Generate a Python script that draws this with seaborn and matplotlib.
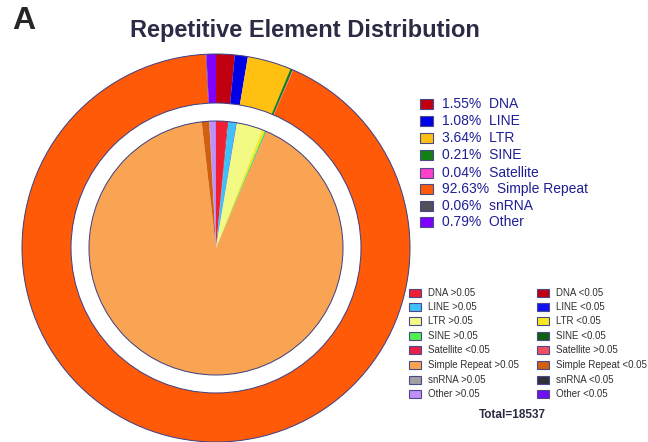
import matplotlib
matplotlib.use("Agg")
import matplotlib.pyplot as plt
from matplotlib.patches import Rectangle, Circle
import seaborn as sns

sns.set_style("white")
plt.rcParams['font.family'] = ['Liberation Sans', 'DejaVu Sans']

# outer ring: share of each repeat class (%)
classes = ["DNA", "LINE", "LTR", "SINE", "Satellite", "Simple Repeat", "snRNA", "Other"]
class_pct = [1.55, 1.08, 3.64, 0.21, 0.04, 92.63, 0.06, 0.79]
class_colors = ["#C00010", "#0000E6", "#FFC012", "#128012", "#FF40C8",
                "#FF5A08", "#505058", "#8000FF"]

# inner pie: each class split by p-value group
sub_labels = ["DNA >0.05", "DNA <0.05", "LINE >0.05", "LINE <0.05",
              "LTR >0.05", "LTR <0.05", "SINE >0.05", "SINE <0.05",
              "Satellite <0.05", "Satellite >0.05",
              "Simple Repeat >0.05", "Simple Repeat <0.05",
              "snRNA >0.05", "snRNA <0.05", "Other >0.05", "Other <0.05"]
sub_pct = [1.45, 0.10, 1.02, 0.06, 3.30, 0.34, 0.17, 0.04,
           0.01, 0.03, 91.68, 0.95, 0.05, 0.01, 0.76, 0.03]
sub_colors = ["#F02032", "#C00010", "#40C0F8", "#1010F0",
              "#F2FA84", "#F8E820", "#50F050", "#106010",
              "#E8204A", "#F05060", "#F8A452", "#D06010",
              "#A0A0A0", "#303038", "#C090F8", "#7010F0"]
total = 18537

fig = plt.figure(figsize=(6.48, 4.42), dpi=100)
W, H = 648, 442

# pie axes placed in pixel units: centre (216, 248), outer radius 194
cx, cy, r = 216, 248, 194
ring_in = 145 / r
pie_r = 127 / r
ax = fig.add_axes([(cx - r) / W, (H - cy - r) / H, 2 * r / W, 2 * r / H])
ax.pie(class_pct, colors=class_colors, radius=1.0, startangle=90,
       counterclock=False, wedgeprops=dict(width=1 - ring_in, linewidth=0))
ax.pie(sub_pct, colors=sub_colors, radius=pie_r, startangle=90,
       counterclock=False, wedgeprops=dict(linewidth=0))
# thin navy outlines around the ring and the pie
for rad in (1.0, ring_in, pie_r):
    ax.add_patch(Circle((0, 0), rad, fill=False, edgecolor="#3C3C82",
                        linewidth=0.7, clip_on=False))
ax.set_xlim(-1, 1)
ax.set_ylim(-1, 1)
ax.set_aspect("equal")
ax.axis("off")

fig.text(12 / W, 1 - 29 / H, "A", fontsize=23, fontweight="bold", va="baseline")
fig.text(305 / W, 1 - 30 / H, "Repetitive Element Distribution", fontsize=17,
         fontweight="bold", color="#2B2B45", ha="center", va="center")

# upper legend: class percentages
ys = [104, 121, 138, 155, 173, 189, 206, 222]
for y, lab, p, c in zip(ys, classes, class_pct, class_colors):
    fig.patches.append(Rectangle((420 / W, 1 - (y + 5) / H), 13 / W, 10 / H,
                                 transform=fig.transFigure, facecolor=c,
                                 edgecolor="#4A4A8A", linewidth=0.8))
    fig.text(442 / W, 1 - y / H, f"{p:.2f}%  {lab}", fontsize=10,
             color="#1E1E96", va="center")

# lower legend: p-value groups in two columns
left_col = [0, 2, 4, 6, 8, 10, 12, 14]
right_col = [1, 3, 5, 7, 9, 11, 13, 15]
ys2 = [293, 307, 321, 336, 350, 365, 380, 394]
for col, x0 in ((left_col, 409), (right_col, 537)):
    for y, i in zip(ys2, col):
        fig.patches.append(Rectangle((x0 / W, 1 - (y + 4) / H), 12 / W, 8 / H,
                                     transform=fig.transFigure,
                                     facecolor=sub_colors[i],
                                     edgecolor="#4A4A8A", linewidth=0.8))
        fig.text((x0 + 19) / W, 1 - y / H, sub_labels[i], fontsize=7,
                 color="#303030", va="center")

fig.text(512 / W, 1 - 415 / H, f"Total={total}", fontsize=8.5,
         fontweight="bold", color="#2A2A40", ha="center", va="center")

fig.savefig("out.png", dpi=100)
